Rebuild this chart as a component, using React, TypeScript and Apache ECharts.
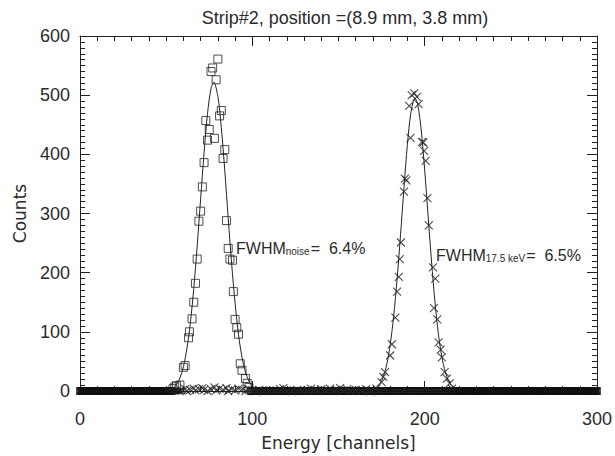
import React, { useEffect, useRef } from "react";
import * as echarts from "echarts";

const TITLE = "Strip#2, position =(8.9 mm, 3.8 mm)";
const X_NAME = "Energy [channels]";
const Y_NAME = "Counts";
const X_MIN = 0;
const X_MAX = 300;
const X_STEP = 100;
const Y_MIN = 0;
const Y_MAX = 600;
const Y_STEP = 100;

// square symbols: noise peak [channel, counts]
const noisePeak: [number, number][] = [
  [54, 4], [55, 7], [56, 9], [58, 10], [60, 40], [61, 43], [63, 90], [63.5, 100],
  [65, 122], [66, 150], [67, 182], [68, 223], [69, 287], [70, 304], [71, 345],
  [72, 386], [73, 457], [74, 424], [75, 442], [76, 540], [77, 546], [78, 427],
  [79, 526], [80, 561], [81, 465], [82, 474], [83, 393], [84, 408], [85, 288],
  [86, 241], [87, 223], [88.5, 221], [89, 168], [90, 121], [91, 107], [92, 96],
  [93, 46], [94, 35], [96, 21], [97, 13], [98, 6],
];
// channel ranges where the square series sits at zero counts
const noiseZeroRanges: [number, number][] = [[0, 53], [99, 300]];

// cross symbols: 17.5 keV peak [channel, counts]
const lineNoise: [number, number][] = [
  [59, 1], [61, 3], [62, 0], [64, 2], [66, 4], [67, 1], [69, 3], [71, 5], [72, 2],
  [74, 0], [76, 3], [78, 6], [79, 1], [81, 4], [83, 2], [85, 5], [86, 0], [88, 3],
  [90, 1], [92, 4], [94, 2], [96, 0], [98, 3], [100, 1], [102, 0], [104, 2],
  [107, 0], [110, 1], [113, 0], [116, 3], [118, 5], [120, 1], [123, 0], [126, 2],
  [129, 0], [132, 1], [134, 4], [136, 2], [138, 0], [140, 3], [142, 1], [145, 4],
  [147, 0], [149, 2], [151, 5], [153, 1], [155, 3], [157, 0], [160, 2], [163, 1],
  [166, 3], [168, 0],
];
const linePeak: [number, number][] = [
  [169, 0], [172, 4], [175, 15], [176, 24], [177, 32], [180, 60], [181, 79],
  [183, 124], [184, 168], [185, 193], [185.6, 223], [186.2, 251], [188, 337],
  [188.5, 359], [189.4, 356], [191, 482], [191.8, 428], [192.5, 500], [194, 503],
  [195.5, 497], [196.5, 485], [198.5, 421], [199.2, 420], [199.7, 406],
  [200.6, 389], [201.6, 326], [202.4, 280], [204.8, 209], [206.2, 190],
  [205.4, 140], [207.3, 121], [208.1, 82], [209.3, 70], [210, 57], [211.6, 32],
  [212.9, 21], [214.5, 13], [215.8, 4],
];
const lineZeroRanges: [number, number][] = [[0, 58], [217, 300]];

// fitted curves
const noiseFitX = [50, 54, 56, 58, 60, 62, 64, 66, 68, 70, 72, 74, 76, 77.6, 80, 82, 84, 86, 88, 90, 92, 94, 96, 98, 100, 104];
const noiseFitY = [1, 5, 11, 22, 41, 71, 114, 173, 245, 325, 403, 469, 511, 522, 498, 445, 373, 292, 215, 148, 95, 57, 32, 17, 8, 2];
const peakFitX = [170, 174, 176, 178, 180, 182, 184, 186, 188, 190, 192, 194.4, 196, 198, 200, 202, 204, 206, 208, 210, 212, 214, 216, 220];
const peakFitY = [2, 12, 24, 45, 78, 126, 189, 264, 344, 417, 470, 495, 484, 441, 374, 296, 218, 150, 96, 57, 32, 16, 8, 1];

const FONT = "Liberation Sans";
const NAME_FONT = "DejaVu Sans";
const INK = "#222";
const TEXT = "#2a2a2a";

function zeros(ranges: [number, number][]): [number, number][] {
  const out: [number, number][] = [];
  ranges.forEach(([a, b]) => {
    for (let c = a; c <= b; c++) out.push([c, 0]);
  });
  return out;
}

export default function App() {
  const ref = useRef<HTMLDivElement>(null);
  useEffect(() => {
    if (!ref.current) return;
    const chart = echarts.init(ref.current, undefined, { renderer: "svg" });
    const tickCommon = {
      axisLine: { show: true, onZero: false, lineStyle: { color: INK, width: 1 } },
      axisTick: { show: true, inside: true, length: 10, lineStyle: { color: INK, width: 1 } },
      minorTick: { show: true, inside: true, splitNumber: 10, length: 5, lineStyle: { color: INK, width: 1 } },
      splitLine: { show: false },
      minorSplitLine: { show: false },
    };
    const labelStyle = { fontFamily: FONT, fontSize: 18, color: TEXT };
    const squareStyle = { color: "rgba(0,0,0,0)", borderColor: INK, borderWidth: 1 };
    const crossStyle = { color: "rgba(0,0,0,0)", borderColor: INK, borderWidth: 1.1 };
    const bandStyle = { color: "rgba(0,0,0,0)", borderColor: "#111", borderWidth: 1.8 };
    const crossSymbol = "path://M0,0L10,10M10,0L0,10";
    const subRich = {
      m: { fontFamily: FONT, fontSize: 16, fill: TEXT, lineHeight: 20, verticalAlign: "middle" },
      s: { fontFamily: FONT, fontSize: 10, fill: TEXT, lineHeight: 12, verticalAlign: "bottom", padding: [0, 1, 2, 0] },
    };
    chart.setOption({
      animation: false,
      backgroundColor: "#fff",
      title: {
        text: TITLE,
        left: 340,
        top: 4,
        textAlign: "center",
        textStyle: { fontFamily: FONT, fontSize: 18, fontWeight: "normal", color: TEXT },
      },
      grid: { left: 80, right: 15, top: 36, bottom: 59, containLabel: false },
      xAxis: [
        {
          type: "value", min: X_MIN, max: X_MAX, interval: X_STEP, position: "bottom",
          ...tickCommon,
          axisLabel: { ...labelStyle, margin: 19 },
          name: X_NAME, nameLocation: "middle", nameGap: 43,
          nameTextStyle: { fontFamily: NAME_FONT, fontSize: 17, color: TEXT },
        },
        {
          type: "value", min: X_MIN, max: X_MAX, interval: X_STEP, position: "top",
          ...tickCommon, axisLabel: { show: false },
        },
      ],
      yAxis: [
        {
          type: "value", min: Y_MIN, max: Y_MAX, interval: Y_STEP, position: "left",
          ...tickCommon,
          axisLabel: { ...labelStyle, margin: 10 },
          name: Y_NAME, nameLocation: "middle", nameGap: 52, nameRotate: 90,
          nameTextStyle: { fontFamily: NAME_FONT, fontSize: 17, color: TEXT },
        },
        {
          type: "value", min: Y_MIN, max: Y_MAX, interval: Y_STEP, position: "right",
          ...tickCommon, axisLabel: { show: false },
        },
      ],
      series: [
        {
          type: "scatter", data: zeros(noiseZeroRanges), symbol: "rect",
          symbolSize: 6, itemStyle: bandStyle, clip: false, silent: true,
        },
        {
          type: "scatter", data: zeros(lineZeroRanges), symbol: crossSymbol,
          symbolSize: 6, itemStyle: bandStyle, clip: false, silent: true,
        },
        {
          type: "scatter", data: noisePeak, symbol: "rect",
          symbolSize: 8, itemStyle: squareStyle, clip: false, silent: true,
        },
        {
          type: "scatter", data: lineNoise.concat(linePeak), symbol: crossSymbol,
          symbolSize: 8, itemStyle: crossStyle, clip: false, silent: true,
        },
        {
          type: "line", data: noiseFitX.map((x, i) => [x, noiseFitY[i]]), showSymbol: false,
          smooth: 0.3, lineStyle: { color: INK, width: 1 }, silent: true,
        },
        {
          type: "line", data: peakFitX.map((x, i) => [x, peakFitY[i]]), showSymbol: false,
          smooth: 0.3, lineStyle: { color: INK, width: 1 }, silent: true,
        },
      ],
      graphic: [
        {
          type: "text", left: 236, top: 240,
          style: { text: "{m|FWHM}{s|noise}{m|=  6.4%}", rich: subRich },
        },
        {
          type: "text", left: 436, top: 247,
          style: { text: "{m|FWHM}{s|17.5 keV}{m|=  6.5%}", rich: subRich },
        },
      ],
    });
    return () => chart.dispose();
  }, []);
  return <div ref={ref} style={{ position: "fixed", left: 0, top: 0, width: 615, height: 456 }} />;
}
